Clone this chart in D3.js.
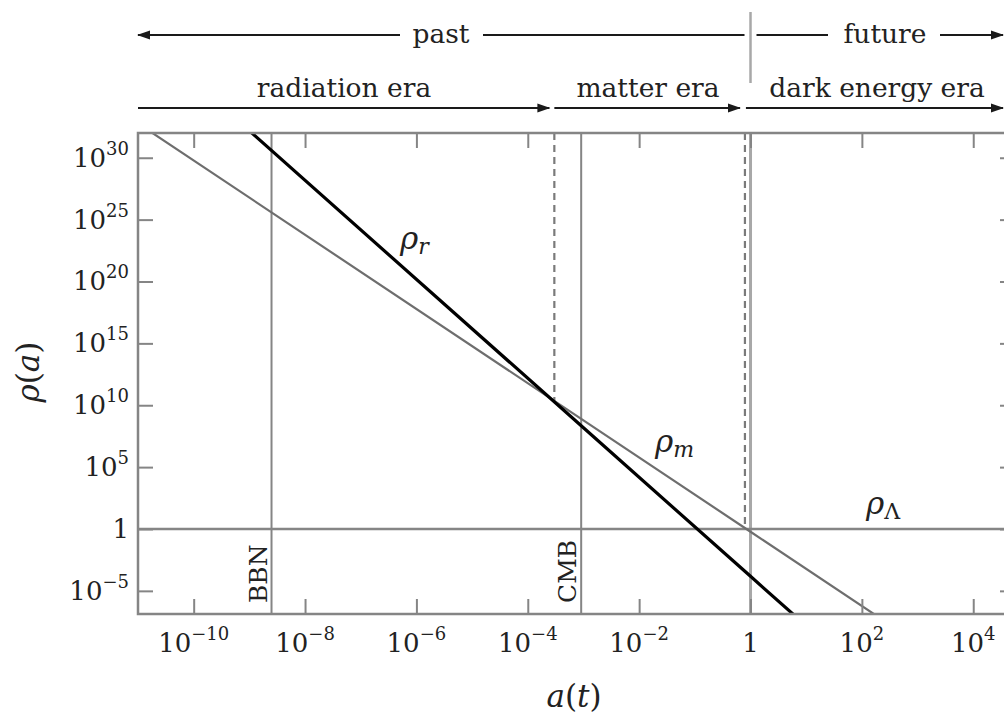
<!DOCTYPE html>
<html><head><meta charset="utf-8">
<script src="https://cdn.jsdelivr.net/npm/d3@7"></script>
<style>body{margin:0;background:#fff}svg{display:block}</style>
</head><body>
<svg id="c" width="1004" height="718"></svg>
<script>
// ---------- data ----------
const xTickValues = [1e-10, 1e-8, 1e-6, 1e-4, 1e-2, 1, 1e2, 1e4];
const xTickBase   = ["10", "10", "10", "10", "10", "1", "10", "10"];
const xTickSup    = ["\u221210", "\u22128", "\u22126", "\u22124", "\u22122", "", "2", "4"];
const yTickValues = [1e-5, 1, 1e5, 1e10, 1e15, 1e20, 1e25, 1e30];
const yTickBase   = ["10", "1", "10", "10", "10", "10", "10", "10"];
const yTickSup    = ["\u22125", "", "5", "10", "15", "20", "25", "30"];

// densities (straight lines in log-log, read at a few points)
const radiationA   = [1e-9, 1e-3, 1, 10];
const radiationRho = [1.5e32, 1.5e8, 1.5e-4, 1.5e-8];
const matterA      = [1e-11, 1e-3, 1, 1e3];
const matterRho    = [6e32, 6e8, 0.6, 6e-10];
const lambdaA      = [1e-11, 1e5];
const lambdaRho    = [1, 1];

// events (vertical solid lines)
const eventNames = ["BBN", "CMB"];
const eventA     = [2.5e-9, 9.1e-4];
// equalities (vertical dashed lines, down to the crossing)
const equalityA   = [3e-4, 0.794];
const equalityRho = [1.85e10, 1];
const todayA = 1;

// ---------- layout ----------
const M = {left: 138, top: 133, right: 1015, bottom: 614};
const GRAY = "#858585";
const FONT = "DejaVu Serif";
const svg = d3.select("#c").style("font-family", FONT);

const x = d3.scaleLog().domain([1e-11, Math.pow(10, 4.75)]).range([M.left, M.right]);
const y = d3.scaleLog().domain([Math.pow(10, -6.87), 1e32]).range([M.bottom, M.top]);

svg.append("defs").append("clipPath").attr("id", "plot")
  .append("rect").attr("x", M.left).attr("y", M.top)
  .attr("width", M.right - M.left).attr("height", M.bottom - M.top);

const marker = svg.select("defs").append("marker").attr("id", "arr")
  .attr("markerUnits", "userSpaceOnUse").attr("markerWidth", 14).attr("markerHeight", 12)
  .attr("viewBox", "0 -6 14 12").attr("refX", 12).attr("refY", 0).attr("orient", "auto-start-reverse");
marker.append("path").attr("d", "M0,-4.5L13,0L0,4.5Z").attr("fill", "#1a1a1a");

const plot = svg.append("g").attr("clip-path", "url(#plot)");

// today line (a = 1)
plot.append("line").attr("x1", x(todayA)).attr("x2", x(todayA))
  .attr("y1", M.top).attr("y2", M.bottom).attr("stroke", "#a8a8a8").attr("stroke-width", 3);

// event lines
eventA.forEach((a, i) => {
  plot.append("line").attr("x1", x(a)).attr("x2", x(a)).attr("y1", M.top).attr("y2", M.bottom)
    .attr("stroke", GRAY).attr("stroke-width", 2);
  svg.append("text").attr("transform", `translate(${x(a) - 5},${M.bottom - 11}) rotate(-90)`)
    .attr("font-family", FONT).attr("font-size", 25).attr("fill", "#222").text(eventNames[i]);
});

// equality dashed lines
equalityA.forEach((a, i) => {
  plot.append("line").attr("x1", x(a)).attr("x2", x(a)).attr("y1", M.top).attr("y2", y(equalityRho[i]))
    .attr("stroke", "#7a7a7a").attr("stroke-width", 2.2).attr("stroke-dasharray", "7,5");
});

const line = d3.line().x(d => x(d[0])).y(d => y(d[1]));
plot.append("path").datum(d3.zip(lambdaA, lambdaRho)).attr("d", line)
  .attr("fill", "none").attr("stroke", GRAY).attr("stroke-width", 2.5);
plot.append("path").datum(d3.zip(matterA, matterRho)).attr("d", line)
  .attr("fill", "none").attr("stroke", "#6e6e6e").attr("stroke-width", 2.2);
plot.append("path").datum(d3.zip(radiationA, radiationRho)).attr("d", line)
  .attr("fill", "none").attr("stroke", "#000").attr("stroke-width", 3.2);

// frame
svg.append("rect").attr("x", M.left).attr("y", M.top)
  .attr("width", M.right - M.left).attr("height", M.bottom - M.top)
  .attr("fill", "none").attr("stroke", GRAY).attr("stroke-width", 2.5);

// axes (inward ticks)
function styleAxis(g) {
  g.select(".domain").remove();
  g.selectAll(".tick line").attr("stroke", GRAY).attr("stroke-width", 2);
  g.selectAll(".tick text").remove();
}
svg.append("g").attr("transform", `translate(0,${M.bottom})`)
  .call(d3.axisBottom(x).tickValues(xTickValues).tickSize(-15)).call(styleAxis);
svg.append("g").attr("transform", `translate(0,${M.top})`)
  .call(d3.axisTop(x).tickValues(xTickValues).tickSize(-15)).call(styleAxis);
svg.append("g").attr("transform", `translate(${M.left},0)`)
  .call(d3.axisLeft(y).tickValues(yTickValues).tickSize(-15)).call(styleAxis);
svg.append("g").attr("transform", `translate(${M.right},0)`)
  .call(d3.axisRight(y).tickValues(yTickValues).tickSize(-15)).call(styleAxis);

function label(sel, base, sup) {
  sel.append("tspan").text(base);
  if (sup) sel.append("tspan").attr("font-size", 18).attr("dy", -12).text(sup);
}
svg.append("g").selectAll("text").data(xTickValues).join("text")
  .attr("x", d => x(d)).attr("y", 652).attr("text-anchor", "middle")
  .attr("font-size", 26).attr("fill", "#222")
  .each(function(d, i) { label(d3.select(this), xTickBase[i], xTickSup[i]); });
svg.append("g").selectAll("text").data(yTickValues).join("text")
  .attr("x", 129).attr("y", d => y(d) + 9).attr("text-anchor", "end")
  .attr("font-size", 26).attr("fill", "#222")
  .each(function(d, i) { label(d3.select(this), yTickBase[i], yTickSup[i]); });

// axis titles
const xt = svg.append("text").attr("x", 574).attr("y", 707).attr("text-anchor", "middle")
  .attr("font-size", 31).attr("fill", "#222");
xt.append("tspan").attr("font-style", "italic").text("a");
xt.append("tspan").text("(");
xt.append("tspan").attr("font-style", "italic").text("t");
xt.append("tspan").text(")");
const yt = svg.append("text").attr("transform", "translate(39,372) rotate(-90)")
  .attr("text-anchor", "middle").attr("font-size", 31).attr("fill", "#222");
yt.append("tspan").attr("font-style", "italic").text("\u03c1");
yt.append("tspan").text("(");
yt.append("tspan").attr("font-style", "italic").text("a");
yt.append("tspan").text(")");

// curve labels
function rhoLabel(px, py, sub, subItalic) {
  const t = svg.append("text").attr("x", px).attr("y", py).attr("font-size", 31).attr("fill", "#222");
  t.append("tspan").attr("font-style", "italic").text("\u03c1");
  t.append("tspan").attr("font-size", 22).attr("dy", 5)
    .attr("font-style", subItalic ? "italic" : "normal").text(sub);
}
rhoLabel(400, 249, "r", true);
rhoLabel(655, 452, "m", true);
rhoLabel(866, 514, "\u039b", false);

// ---------- top annotations ----------
const top1 = 35, top2 = 108;
const ann = svg.append("g").attr("stroke", "#1a1a1a").attr("stroke-width", 2).attr("fill", "none");
function seg(x1, x2, yy, endArrow, startArrow) {
  const l = ann.append("line").attr("x1", x1).attr("x2", x2).attr("y1", yy).attr("y2", yy);
  if (endArrow) l.attr("marker-end", "url(#arr)");
  if (startArrow) l.attr("marker-start", "url(#arr)");
}
// past / future row
seg(M.left, 400, top1, false, true);
seg(483, x(todayA) - 6, top1, false, false);
seg(x(todayA) + 6, 828, top1, false, false);
seg(940, 1003, top1, true, false);
svg.append("line").attr("x1", x(todayA)).attr("x2", x(todayA)).attr("y1", 12).attr("y2", 83)
  .attr("stroke", "#a8a8a8").attr("stroke-width", 2.5);
// era row
seg(M.left, x(equalityA[0]) - 5, top2, true, false);
seg(x(equalityA[0]), x(equalityA[1]) - 5, top2, true, false);
seg(x(equalityA[1]) + 1, 1003, top2, true, false);

const topText = [["past", 441, 43], ["future", 885, 43],
  ["radiation era", 344, 97], ["matter era", 648, 97], ["dark energy era", 877, 97]];
svg.append("g").selectAll("text").data(topText).join("text")
  .attr("x", d => d[1]).attr("y", d => d[2]).attr("text-anchor", "middle")
  .attr("font-size", 26.5).attr("fill", "#222").text(d => d[0]);
</script>
</body></html>
